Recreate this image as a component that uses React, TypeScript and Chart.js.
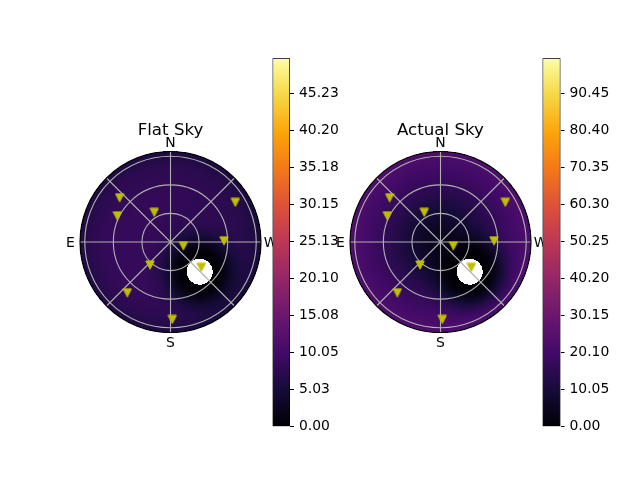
import React, { useEffect, useRef } from 'react';
import { Chart, registerables } from 'chart.js';

Chart.register(...registerables);

// ---------- data ----------
// stars: zenith distance (deg) and azimuth (deg, N=0, E=90)
const starZenith = [70.8, 62.3, 35.5, 79.8, 14.0, 56.2, 32.3, 41.8, 69.9, 81.2];
const starAzimuth = [48.9, 63.7, 28.6, 301.5, 253.9, 271.4, 138.3, 230.6, 139.6, 181.3];

// sun position and masked (white) radius
const sunZenith = 43.7;
const sunAzimuth = 224.5;
const sunMaskRadius = 13.6;

// sky brightness vs zenith distance
const profileRadii = [0, 10, 20, 30, 40, 50, 60, 70, 80, 88, 95];
const flatProfile = [7.8, 7.9, 8.0, 8.1, 8.1, 8.1, 8.0, 7.8, 7.3, 6.4, 5.5];
const actualProfile = [5.0, 5.5, 7.0, 9.0, 11.5, 14.0, 16.5, 18.5, 20.5, 22.0, 23.0];

// mild azimuthal variation of the flat sky
const flatAzimuths = [0, 45, 90, 135, 180, 225, 270, 315, 360];
const flatAzimuthGain = [1.0, 1.03, 1.05, 1.06, 1.0, 0.96, 0.92, 0.96, 1.0];
const actualAzimuthGain = [1, 1, 1, 1, 1, 1, 1, 1, 1];

// darkening around the sun vs distance from it
const haloDistance = [13.6, 18, 22, 26, 30, 34, 38, 42, 48, 56];
const haloGain = [0.0, 0.02, 0.08, 0.2, 0.38, 0.55, 0.7, 0.82, 0.93, 1.0];

// polar grid
const ringValues = [30, 60, 90];
const spokeAzimuths = [0, 45, 90, 135, 180, 225, 270, 315];
const compassLabels = ['N', 'E', 'S', 'W'];
const compassAzimuths = [0, 90, 180, 270];
const R_MAX = 95;
const LABEL_R = 105;

// colorbars
const flatMax = 50.0;
const actualMax = 100.0;
const flatTicks = [0, 5.025, 10.05, 15.075, 20.1, 25.125, 30.15, 35.175, 40.2, 45.225];
const flatTickLabels = ['0.00', '5.03', '10.05', '15.08', '20.10', '25.13', '30.15', '35.18', '40.20', '45.23'];
const actualTicks = [0, 10.05, 20.1, 30.15, 40.2, 50.25, 60.3, 70.35, 80.4, 90.45];
const actualTickLabels = ['0.00', '10.05', '20.10', '30.15', '40.20', '50.25', '60.30', '70.35', '80.40', '90.45'];

// ---------- colormap ----------
const infernoStops = ['#000004', '#160b39', '#420a68', '#6a176e', '#932667', '#bc3754', '#dd513a', '#f37819', '#fca50a', '#f6d746', '#fcffa4'];
const infernoRGB = infernoStops.map((h) => [parseInt(h.slice(1, 3), 16), parseInt(h.slice(3, 5), 16), parseInt(h.slice(5, 7), 16)]);

function inferno(t: number): number[] {
  const tt = Math.max(0, Math.min(1, t)) * (infernoRGB.length - 1);
  const i = Math.min(infernoRGB.length - 2, Math.floor(tt));
  const f = tt - i;
  const a = infernoRGB[i], b = infernoRGB[i + 1];
  return [a[0] + (b[0] - a[0]) * f, a[1] + (b[1] - a[1]) * f, a[2] + (b[2] - a[2]) * f];
}

function interp(xs: number[], ys: number[], x: number): number {
  if (x <= xs[0]) return ys[0];
  if (x >= xs[xs.length - 1]) return ys[ys.length - 1];
  for (let i = 0; i < xs.length - 1; i++) {
    if (x <= xs[i + 1]) {
      const f = (x - xs[i]) / (xs[i + 1] - xs[i]);
      return ys[i] + (ys[i + 1] - ys[i]) * f;
    }
  }
  return ys[ys.length - 1];
}

function toXY(zen: number, az: number) {
  const a = (az * Math.PI) / 180;
  return { x: -zen * Math.sin(a), y: zen * Math.cos(a) };
}

const FONT = '"DejaVu Sans", "Liberation Sans", sans-serif';

function makeMarker(): HTMLCanvasElement {
  const c = document.createElement('canvas');
  c.width = 10;
  c.height = 10;
  const g = c.getContext('2d')!;
  g.fillStyle = '#bfbf00';
  g.strokeStyle = '#bfbf00';
  g.lineWidth = 1;
  g.lineJoin = 'miter';
  g.beginPath();
  g.moveTo(0.8, 1.0);
  g.lineTo(9.2, 1.0);
  g.lineTo(5, 9.2);
  g.closePath();
  g.fill();
  g.stroke();
  return c;
}

function makeSkyPlugin(profile: number[], azGain: number[], vmax: number, title: string) {
  return {
    id: 'sky',
    beforeDatasetsDraw(chart: any) {
      const { ctx, chartArea: a } = chart;
      const xs = chart.scales.x, ys = chart.scales.y;
      const x0 = Math.floor(a.left), y0 = Math.floor(a.top);
      const w = Math.ceil(a.right) - x0, h = Math.ceil(a.bottom) - y0;
      const off = document.createElement('canvas');
      off.width = w;
      off.height = h;
      const octx = off.getContext('2d')!;
      const img = octx.createImageData(w, h);
      const sun = toXY(sunZenith, sunAzimuth);
      for (let j = 0; j < h; j++) {
        const y = ys.getValueForPixel(y0 + j + 0.5);
        for (let i = 0; i < w; i++) {
          const x = xs.getValueForPixel(x0 + i + 0.5);
          const r = Math.hypot(x, y);
          if (r > R_MAX + 0.3) continue;
          const d = Math.hypot(x - sun.x, y - sun.y);
          let rgb: number[];
          if (d < sunMaskRadius) rgb = [255, 255, 255];
          else {
            const az = ((Math.atan2(-x, y) * 180) / Math.PI + 360) % 360;
            const v = interp(profileRadii, profile, r) * interp(flatAzimuths, azGain, az) * interp(haloDistance, haloGain, d);
            rgb = inferno(v / vmax);
          }
          const k = (j * w + i) * 4;
          img.data[k] = rgb[0];
          img.data[k + 1] = rgb[1];
          img.data[k + 2] = rgb[2];
          img.data[k + 3] = 255;
        }
      }
      octx.putImageData(img, 0, 0);
      ctx.drawImage(off, x0, y0);

      const cx = xs.getPixelForValue(0), cy = ys.getPixelForValue(0);
      ctx.save();
      ctx.strokeStyle = '#b0b0b0';
      ctx.lineWidth = 1.1;
      ringValues.forEach((rv) => {
        const rad = xs.getPixelForValue(rv) - cx;
        ctx.beginPath();
        ctx.arc(cx, cy, rad, 0, Math.PI * 2);
        ctx.stroke();
      });
      spokeAzimuths.forEach((az) => {
        const p = toXY(R_MAX, az);
        ctx.beginPath();
        ctx.moveTo(cx, cy);
        ctx.lineTo(xs.getPixelForValue(p.x), ys.getPixelForValue(p.y));
        ctx.stroke();
      });
      ctx.strokeStyle = '#000';
      ctx.lineWidth = 1.1;
      ctx.beginPath();
      ctx.arc(cx, cy, xs.getPixelForValue(R_MAX) - cx, 0, Math.PI * 2);
      ctx.stroke();
      ctx.restore();
    },
    afterDraw(chart: any) {
      const { ctx } = chart;
      const xs = chart.scales.x, ys = chart.scales.y;
      ctx.save();
      ctx.fillStyle = '#000';
      ctx.textAlign = 'center';
      ctx.textBaseline = 'alphabetic';
      const fs = 13.9;
      ctx.font = `${fs}px ${FONT}`;
      compassLabels.forEach((lab, i) => {
        const p = toXY(LABEL_R, compassAzimuths[i]);
        ctx.fillText(lab, xs.getPixelForValue(p.x), ys.getPixelForValue(p.y) + 0.365 * fs);
      });
      ctx.font = `16.67px ${FONT}`;
      ctx.fillText(title, xs.getPixelForValue(0), ys.getPixelForValue(R_MAX) - 16.5);
      ctx.restore();
    },
  };
}

function polarConfig(profile: number[], azGain: number[], vmax: number, title: string) {
  const marker = makeMarker();
  const points = starZenith.map((z, i) => toXY(z, starAzimuth[i]));
  return {
    type: 'scatter',
    data: {
      datasets: [
        {
          data: points,
          pointStyle: marker,
          pointRadius: 5,
          backgroundColor: '#bfbf00',
          borderColor: '#bfbf00',
        },
      ],
    },
    options: {
      animation: false,
      responsive: false,
      events: [],
      layout: { padding: { left: 40, right: 29, top: 51.5, bottom: 27.5 } },
      scales: {
        x: { type: 'linear', min: -R_MAX, max: R_MAX, display: false },
        y: { type: 'linear', min: -R_MAX, max: R_MAX, display: false },
      },
      plugins: { legend: { display: false }, tooltip: { enabled: false } },
    },
    plugins: [makeSkyPlugin(profile, azGain, vmax, title)],
  };
}

function colorbarConfig(vmax: number, ticks: number[], labels: string[], padRight: number) {
  return {
    type: 'bar',
    data: {
      labels: [''],
      datasets: [
        {
          data: [[0, vmax]],
          backgroundColor: (c: any) => {
            const a = c.chart.chartArea;
            if (!a) return '#000';
            const g = c.chart.ctx.createLinearGradient(0, a.bottom, 0, a.top);
            infernoStops.forEach((col, i) => g.addColorStop(i / (infernoStops.length - 1), col));
            return g;
          },
          borderColor: '#000',
          borderWidth: 1,
          borderSkipped: false,
          barPercentage: 1,
          categoryPercentage: 1,
        },
      ],
    },
    options: {
      animation: false,
      responsive: false,
      events: [],
      layout: { padding: { left: 10.5, right: padRight, top: 13.3, bottom: 12 } },
      plugins: { legend: { display: false }, tooltip: { enabled: false } },
      scales: {
        x: { display: false },
        y: {
          position: 'right',
          min: 0,
          max: vmax,
          afterBuildTicks: (s: any) => {
            s.ticks = ticks.map((v) => ({ value: v }));
          },
          afterFit: (s: any) => {
            s.width = 50;
          },
          grid: { drawOnChartArea: false, drawTicks: true, tickLength: 4, color: '#000', lineWidth: 1 },
          border: { display: false },
          ticks: {
            autoSkip: false,
            padding: 5,
            color: '#000',
            font: { family: FONT, size: 13.9 },
            callback: (_v: any, i: number) => labels[i],
          },
        },
      },
    },
  };
}

function ChartCanvas({ left, top, width, height, make }: any) {
  const ref = useRef<HTMLCanvasElement>(null);
  useEffect(() => {
    const chart = new Chart(ref.current as HTMLCanvasElement, make());
    return () => chart.destroy();
  }, []);
  return <canvas ref={ref} width={width} height={height} style={{ position: 'absolute', left, top, width, height }} />;
}

export default function App() {
  return (
    <div style={{ position: 'absolute', left: 0, top: 0, width: 640, height: 480, background: '#fff', overflow: 'hidden' }}>
      <ChartCanvas left={40} top={100} width={250} height={260} make={() => polarConfig(flatProfile, flatAzimuthGain, flatMax, 'Flat Sky')} />
      <ChartCanvas left={262} top={45} width={110} height={395} make={() => colorbarConfig(flatMax, flatTicks, flatTickLabels, 32)} />
      <ChartCanvas left={310} top={100} width={250} height={260} make={() => polarConfig(actualProfile, actualAzimuthGain, actualMax, 'Actual Sky')} />
      <ChartCanvas left={532} top={45} width={108} height={395} make={() => colorbarConfig(actualMax, actualTicks, actualTickLabels, 29.5)} />
    </div>
  );
}
